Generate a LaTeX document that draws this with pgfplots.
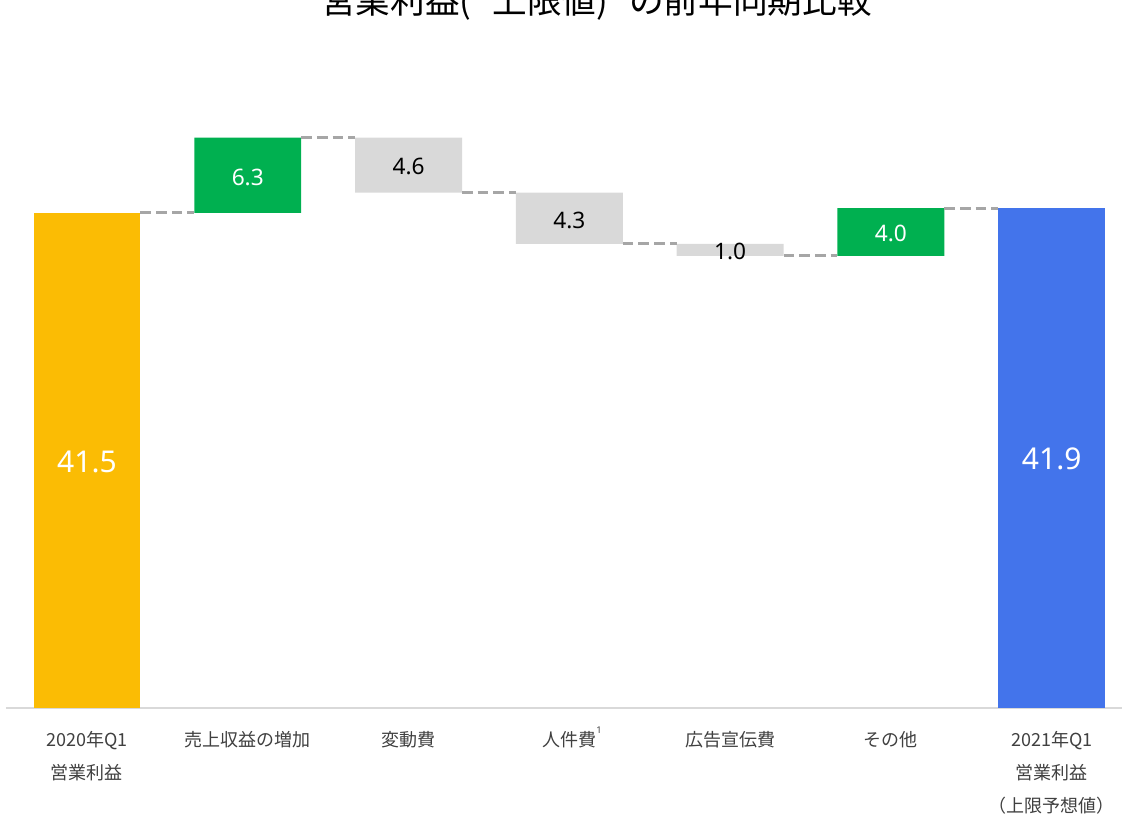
\documentclass[border=0pt]{standalone}
\usepackage{fontspec}
\setmainfont{Noto Sans CJK JP}
\newfontfamily\numfont{Noto Sans}
\usepackage{pgfplots}
\pgfplotsset{compat=1.18}
\definecolor{cyellow}{HTML}{FBBC04}
\definecolor{cgreen}{HTML}{00B050}
\definecolor{cgray}{HTML}{D9D9D9}
\definecolor{cblue}{HTML}{4374EB}
\definecolor{cdash}{HTML}{A6A6A6}
\definecolor{ctext}{HTML}{404040}
\begin{document}
\begin{tikzpicture}[x=0.75pt,y=0.75pt]
\pgfplotsset{
  wf/.style={at={(65.25pt,80.25pt)}, anchor=origin, scale only axis,
    width=837pt, height=456pt, xmin=-0.504, xmax=6.437, ymin=0, ymax=50.96, clip=false},
  conn/.style={cdash, line width=2.25pt, dash pattern=on 8pt off 3.75pt, mark=none},
}
\begin{axis}[wf, ybar stacked, bar width=0.665,
  axis x line=bottom, axis y line=none,
  axis line style={cgray, line width=1.5pt, -},
  xtick={0,1,2,3,4,5,6},
  xticklabels={{2020年Q1\\営業利益}, 売上収益の増加, 変動費,
    {人件費\rlap{\smash{\raisebox{0.75em}{\fontsize{7}{7}\selectfont\numfont 1}}}},
    広告宣伝費, その他, {2021年Q1\\営業利益\\（上限予想値）}},
  xtick style={draw=none},
  xticklabel style={align=center, font=\fontsize{13.5}{24.5}\selectfont, text=ctext,
    anchor=north, inner sep=0pt, yshift=-15.5pt},
]
\addplot[draw=none, fill=none] coordinates {(0,0)(1,41.5)(2,43.2)(3,38.9)(4,37.9)(5,37.9)(6,0)};
\addplot[draw=none, fill=cyellow] coordinates {(0,41.5)(1,0)(2,0)(3,0)(4,0)(5,0)(6,0)};
\addplot[draw=none, fill=cgreen] coordinates {(0,0)(1,6.3)(2,0)(3,0)(4,0)(5,4.0)(6,0)};
\addplot[draw=none, fill=cgray] coordinates {(0,0)(1,0)(2,4.6)(3,4.3)(4,1.0)(5,0)(6,0)};
\addplot[draw=none, fill=cblue] coordinates {(0,0)(1,0)(2,0)(3,0)(4,0)(5,0)(6,41.9)};
\end{axis}
\begin{axis}[wf, hide axis]
\addplot[conn] coordinates {(0.3325,41.5)(0.6675,41.5)};
\addplot[conn] coordinates {(1.3325,47.8)(1.6675,47.8)};
\addplot[conn] coordinates {(2.3325,43.2)(2.6675,43.2)};
\addplot[conn] coordinates {(3.3325,38.9)(3.6675,38.9)};
\addplot[conn] coordinates {(4.3325,37.9)(4.6675,37.9)};
\addplot[conn] coordinates {(5.3325,41.9)(5.6675,41.9)};
\addplot[only marks, mark=none, nodes near coords, point meta=explicit symbolic,
  nodes near coords style={anchor=center, text=white, font=\fontsize{22.5}{24}\selectfont\numfont}]
  coordinates {(0,20.6)[41.5] (6,20.9)[41.9]};
\addplot[only marks, mark=none, nodes near coords, point meta=explicit symbolic,
  nodes near coords style={anchor=center, text=white, font=\fontsize{17}{18}\selectfont\numfont}]
  coordinates {(1,44.5)[6.3] (5,39.78)[4.0]};
\addplot[only marks, mark=none, nodes near coords, point meta=explicit symbolic,
  nodes near coords style={anchor=center, text=black, font=\fontsize{17}{18}\selectfont\numfont}]
  coordinates {(2,45.4)[4.6] (3,40.9)[4.3] (4,38.3)[1.0]};
\end{axis}
\node[font=\fontsize{26}{28}\selectfont, anchor=base, text=black] at (596.5,801) {営業利益(\hspace{0.6em}上限値)\hspace{0.6em}の前年同期比較};
\pgfresetboundingbox
\path[use as bounding box] (0,0) rectangle (1122,815);
\end{tikzpicture}
\end{document}
